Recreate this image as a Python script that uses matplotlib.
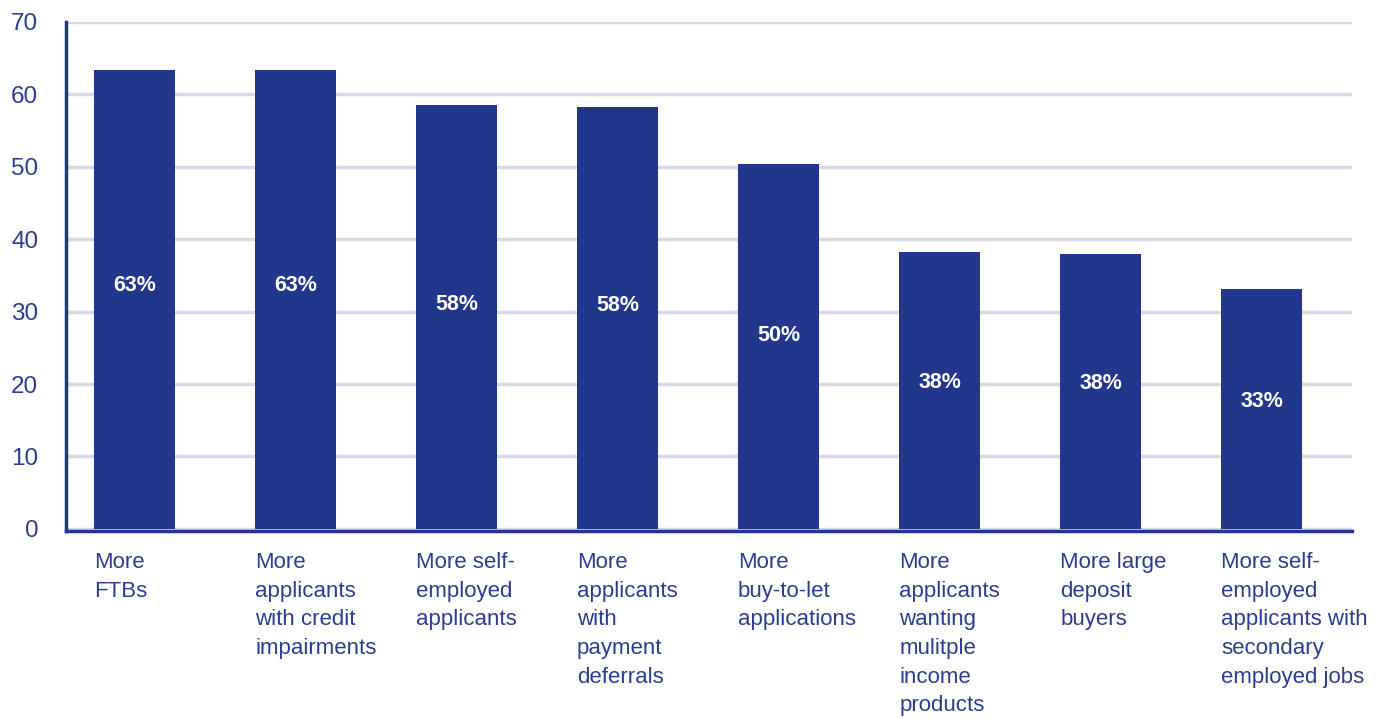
import matplotlib

matplotlib.use("Agg")
import matplotlib.pyplot as plt

# Chart data.
categories = [
    "More\nFTBs",
    "More\napplicants\nwith credit\nimpairments",
    "More self-\nemployed\napplicants",
    "More\napplicants\nwith\npayment\ndeferrals",
    "More\nbuy-to-let\napplications",
    "More\napplicants\nwanting\nmulitple\nincome\nproducts",
    "More large\ndeposit\nbuyers",
    "More self-\nemployed\napplicants with\nsecondary\nemployed jobs",
]
values = [63.4, 63.4, 58.5, 58.2, 50.4, 38.2, 38.0, 33.1]
value_labels = ["63%", "63%", "58%", "58%", "50%", "38%", "38%", "33%"]
y_ticks = [0, 10, 20, 30, 40, 50, 60, 70]

NAVY = "#22368C"
TEXT = "#2B3D92"
GRID = "#D9D9EA"

plt.rcParams["font.family"] = ["Liberation Sans", "DejaVu Sans"]

fig = plt.figure(figsize=(13.85, 7.18), dpi=100)
ax = fig.add_axes([0.0477, 0.2604, 0.9283, 0.709])

width = 0.503
x = list(range(len(values)))
ax.bar(x, values, width=width, color=NAVY, zorder=3)

for xi, v, lab in zip(x, values, value_labels):
    ax.text(xi, v * 0.53, lab, ha="center", va="center", color="white",
            fontsize=15.5, fontweight="bold", zorder=4)

ax.set_xlim(-0.425, 7.56)
ax.set_ylim(-0.3, 70)
ax.set_yticks(y_ticks)
ax.yaxis.grid(True, color=GRID, linewidth=2.5, zorder=0)
ax.set_axisbelow(True)

ax.set_xticks([xi - width / 2 for xi in x])
ax.set_xticklabels(categories, ha="left", va="top", linespacing=1.48)
ax.tick_params(axis="x", length=0, pad=15, labelsize=16, labelcolor=TEXT)
ax.tick_params(axis="y", length=0, pad=20, labelsize=17.5, labelcolor=TEXT)

for side in ["top", "right"]:
    ax.spines[side].set_visible(False)
for side in ["left", "bottom"]:
    ax.spines[side].set_color(NAVY)
    ax.spines[side].set_linewidth(2.5)
    ax.spines[side].set_zorder(5)

fig.savefig("out.png", dpi=100)
